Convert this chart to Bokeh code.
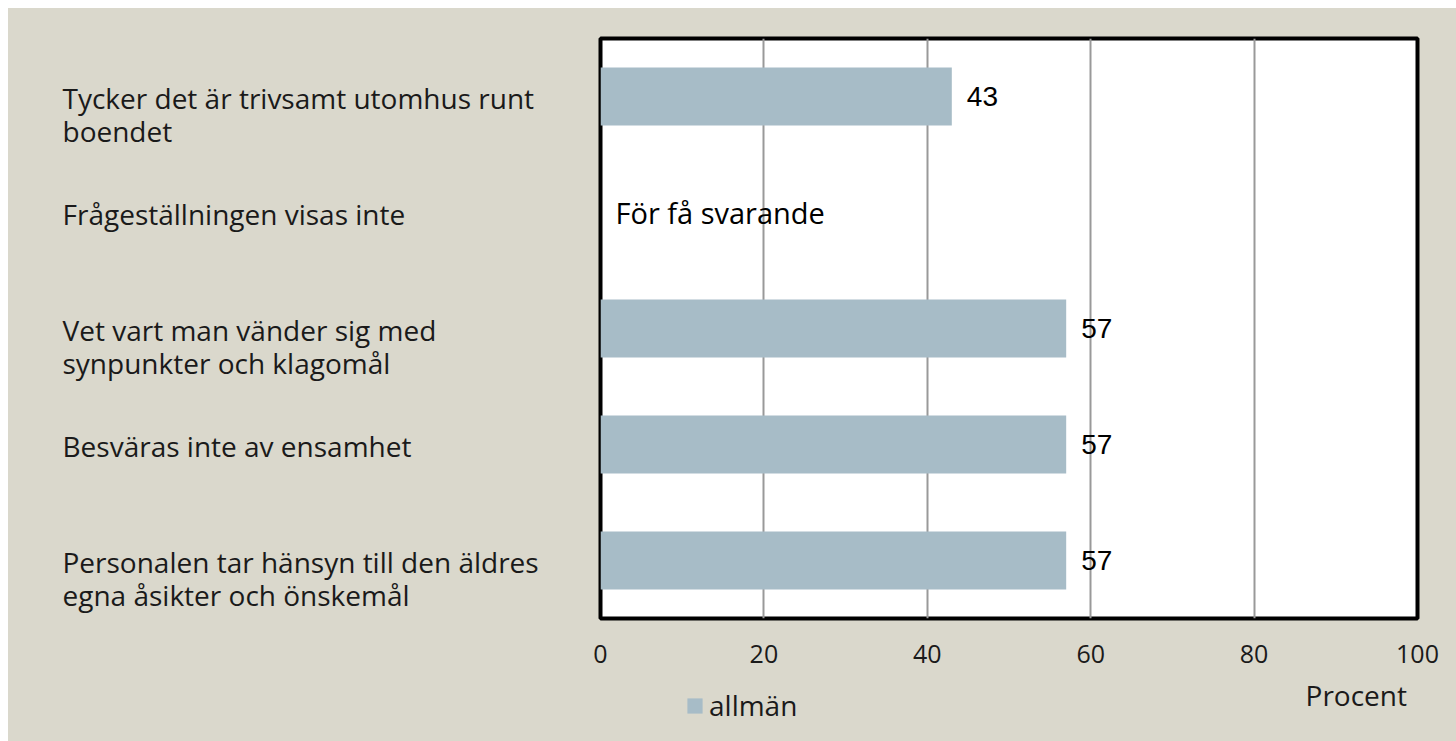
from bokeh.plotting import figure
from bokeh.models import (ColumnDataSource, FactorRange, Range1d, Legend, LegendItem, FixedTicker)
from bokeh.layouts import row, column
from bokeh.core.properties import value
from bokeh.embed import file_html
from bokeh.resources import INLINE

categories = [
    "Tycker det är trivsamt utomhus runt\nboendet",
    "Frågeställningen visas inte",
    "Vet vart man vänder sig med\nsynpunkter och klagomål",
    "Besväras inte av ensamhet",
    "Personalen tar hänsyn till den äldres\negna åsikter och önskemål",
]
values = [43, None, 57, 57, 57]
value_labels = ["43", "För få svarande", "57", "57", "57"]
series_name = "allmän"
x_ticks = [0, 20, 40, 60, 80, 100]
x_title = "Procent"

BG = "#dad8cc"
BAR = "#a7bcc7"
TXT = "#1a1a1a"
CAT_FONT = "Open Sans"
NUM_FONT = "Liberation Sans"

y_range = FactorRange(factors=list(reversed(categories)), range_padding=0)
x_range = Range1d(0, 100)

# ---- main plot
p = figure(width=864, height=666, output_backend="svg", toolbar_location=None,
           y_range=y_range, x_range=x_range,
           min_border_left=8, min_border_right=39, min_border_top=30, min_border_bottom=56)
p.border_fill_color = None
p.background_fill_color = "white"
p.outline_line_color = "black"
p.outline_line_width = 4

bar_cats = [c for c, v in zip(categories, values) if v is not None]
bar_vals = [v for v in values if v is not None]
bars = p.hbar(y=bar_cats, right=bar_vals, left=0, height=0.5, fill_color=BAR, line_color=None)

lab_src = ColumnDataSource(dict(
    y=categories,
    x=[v if v is not None else 0 for v in values],
    t=value_labels,
    font=[NUM_FONT if v is not None else CAT_FONT for v in values],
    size=["28px" if v is not None else "29px" for v in values],
))
p.text(x="x", y="y", text="t", source=lab_src, x_offset=15, text_baseline="middle",
       text_font="font", text_font_size="size", text_color="black")

p.yaxis.visible = False
p.xaxis.ticker = FixedTicker(ticks=x_ticks)
p.xaxis.axis_line_color = None
p.xaxis.major_tick_line_color = None
p.xaxis.minor_tick_line_color = None
p.xaxis.major_label_text_font = CAT_FONT
p.xaxis.major_label_text_font_size = "25px"
p.xaxis.major_label_text_color = TXT
p.xaxis.major_label_standoff = 20

p.xgrid.ticker = FixedTicker(ticks=x_ticks)
p.xgrid.grid_line_color = "#999999"
p.xgrid.grid_line_width = 2
p.ygrid.grid_line_color = None

# ---- category label panel (left)
lf = figure(width=584, height=666, output_backend="svg", toolbar_location=None,
            y_range=y_range, x_range=Range1d(0, 1), x_axis_type=None, y_axis_type=None,
            min_border_left=0, min_border_right=0, min_border_top=30, min_border_bottom=56)
lf.border_fill_color = None
lf.background_fill_color = None
lf.outline_line_color = None
lf.grid.visible = False
cat_src = ColumnDataSource(dict(y=categories, t=categories, x=[0] * len(categories)))
lf.text(x="x", y="y", text="t", source=cat_src, x_offset=54, y_offset=-18,
        text_baseline="top", text_align="left",
        text_font=value(CAT_FONT), text_font_size="28px", text_line_height=0.885,
        text_color=TXT)

# ---- bottom strip: legend and axis title
bf = figure(width=1448, height=67, output_backend="svg", toolbar_location=None,
            x_range=x_range, y_range=Range1d(0, 1), x_axis_type=None, y_axis_type=None,
            min_border_left=592, min_border_right=39, min_border_top=0, min_border_bottom=0)
bf.border_fill_color = None
bf.background_fill_color = None
bf.outline_line_color = None
bf.grid.visible = False
bf.text(x=[86.3], y=[0.70], text=[x_title], text_baseline="middle",
        text_font=value(CAT_FONT), text_font_size="28px", text_color=TXT)
legend_src = ColumnDataSource(dict(y=[float("nan")], right=[float("nan")]))
dummy = bf.hbar(y="y", right="right", left=0, height=0.5, source=legend_src,
                fill_color=BAR, line_color=None)
legend = Legend(items=[LegendItem(label=series_name, renderers=[dummy], index=0)],
                location=(85, 17), padding=0, margin=0, glyph_width=19, glyph_height=19,
                label_standoff=5, label_text_font=CAT_FONT, label_text_font_size="28px",
                label_text_color=TXT, background_fill_alpha=0, border_line_color=None)
bf.add_layout(legend, "center")

lay = column(row(lf, p, spacing=0, styles={"background-color": BG}), bf, spacing=0,
             styles={"background-color": BG})
lay.margin = (8, 0, 0, 8)

open("out.html", "w").write(file_html(lay, INLINE))
